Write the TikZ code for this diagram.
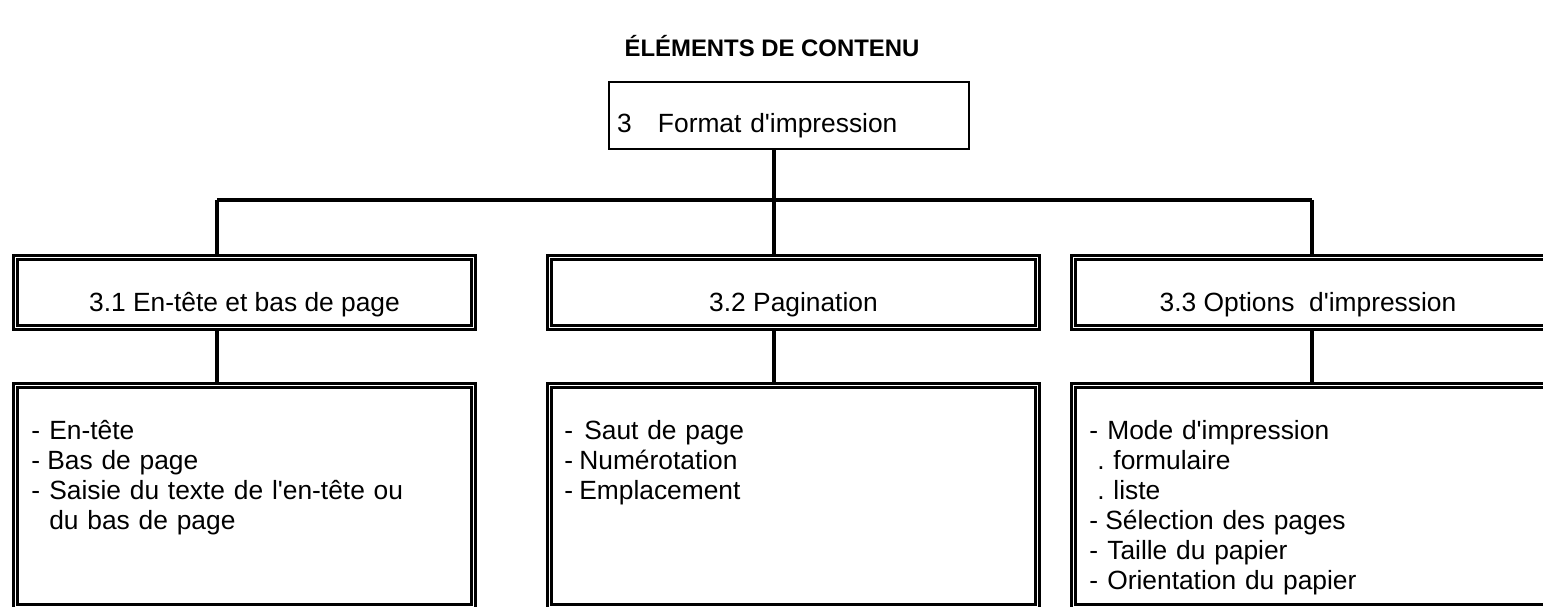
\documentclass[tikz,border=0pt]{standalone}
\usepackage{fontspec}
\setmainfont{Liberation Sans}
\newcommand{\apo}{\textquotesingle}
\newcommand{\dsh}[1][0.18cm]{\makebox[#1][l]{-}}
\tikzset{
  title/.style={anchor=base, inner sep=0pt, font=\fontsize{6.8}{8}\selectfont\bfseries},
  topbox/.style={draw, line width=0.8pt, inner sep=0pt, minimum width=3.60cm,
    text width=3.44cm, align=left, text height=0.51cm, text depth=0.16cm,
    font=\fontsize{7.5}{8.5}\selectfont},
  dbox/.style={draw, line width=0.85pt, double, double distance=0.5pt, inner sep=0pt,
    outer sep=1.1pt, font=\fontsize{7.5}{8.5}\selectfont},
  headbox/.style={dbox, text height=0.545cm, text depth=0.155cm},
  listbox/.style={dbox, minimum height=2.21cm},
  listtext/.style={anchor=base west, inner sep=0pt, align=left, text width=4.3cm,
    font=\fontsize{7.5}{8.54}\selectfont},
  link/.style={line width=0.95pt},
}
\begin{document}
\begin{tikzpicture}
            \useasboundingbox (0,0) rectangle (15.43,6.07);
            \clip (0,0) rectangle (15.43,6.07);

            \node[title] (titre) at (7.72,5.50) {ÉLÉMENTS DE CONTENU};

            % niveau 1
            \node[topbox] (format) at (7.89,4.915) {3\ \ \ Format d\apo{}impression};

            % niveau 2
            \node[headbox, minimum width=4.58cm] (entete) at (2.445,3.145) {3.1 En-tête et bas de page};
            \node[headbox, minimum width=4.88cm] (pagin) at (7.935,3.145) {3.2 Pagination};
            \node[headbox, minimum width=4.75cm] (options) at (13.11,3.145) {\hspace*{-0.06cm}3.3 Options\ \ d\apo{}impression};

            % niveau 3
            \node[listbox, minimum width=4.58cm] (lentete) at (2.445,1.11) {};
            \node[listbox, minimum width=4.88cm] (lpagin) at (7.935,1.11) {};
            \node[listbox, minimum width=4.75cm] (loptions) at (13.11,1.11) {};

            \node[listtext] (tentete) at ([xshift=0.19cm, yshift=-0.58cm]lentete.north west)
              {\dsh En-tête\\ \dsh[0.16cm]Bas de page\\ \dsh Saisie du texte de l\apo{}en-tête ou\\ \hspace*{0.18cm}du bas de page};
            \node[listtext] (tpagin) at ([xshift=0.18cm, yshift=-0.58cm]lpagin.north west)
              {\dsh[0.20cm]Saut de page\\ \dsh[0.15cm]Numérotation\\ \dsh[0.15cm]Emplacement};
            \node[listtext] (toptions) at ([xshift=0.19cm, yshift=-0.58cm]loptions.north west)
              {\dsh Mode d\apo{}impression\\ \hspace*{0.08cm}.\ formulaire\\ \hspace*{0.08cm}.\ liste\\
               \dsh[0.16cm]Sélection des pages\\ \dsh Taille du papier\\ \dsh Orientation du papier};

            % liaisons
            \coordinate (c1) at (2.17,4.07);
            \coordinate (c2) at (7.74,4.07);
            \coordinate (c3) at (13.12,4.07);
            \draw[link] (format.south -| c2) -- (c2);
            \draw[link] (c1) -- (c3);
            \draw[link] (c1) -- (entete.north -| c1);
            \draw[link] (c2) -- (pagin.north -| c2);
            \draw[link] (c3) -- (options.north -| c3);
            \draw[link] (entete.south -| c1) -- (lentete.north -| c1);
            \draw[link] (pagin.south -| c2) -- (lpagin.north -| c2);
            \draw[link] (options.south -| c3) -- (loptions.north -| c3);
        \end{tikzpicture}
\end{document}
